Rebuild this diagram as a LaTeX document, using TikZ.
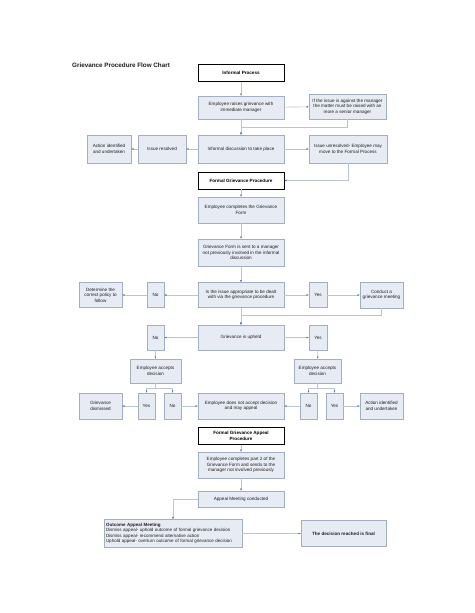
\documentclass[tikz,border=0pt]{standalone}
\usepackage{fontspec}
\setmainfont{Liberation Sans}
\usepackage{xcolor}
\usepackage{tikz}
\usetikzlibrary{arrows.meta,positioning}
\definecolor{boxfill}{HTML}{E7ECF4}
\definecolor{boxline}{HTML}{A3AEC0}
\definecolor{conn}{HTML}{B9C4D6}
\definecolor{tipblue}{HTML}{4A72B0}
\definecolor{txt}{HTML}{1E1E1E}

\begin{document}
\begin{tikzpicture}[x=1pt,y=-1pt,
		box/.style={draw=boxline,fill=boxfill,line width=0.4pt,align=center,inner sep=1pt,text=txt,font=\fontsize{4.6}{5.6}\selectfont},
		head/.style={draw=black,fill=white,line width=0.9pt,align=center,inner sep=1pt,font=\fontsize{4.6}{5.6}\selectfont\bfseries},
		e/.style={-{Latex[length=2.2pt,width=2pt,color=tipblue]},draw=conn,line width=0.6pt},
		ln/.style={draw=conn,line width=0.6pt}
		]
		\useasboundingbox[fill=white] (0,0) rectangle (474,613);
		\node[anchor=west,font=\fontsize{6.3}{7.5}\selectfont\bfseries,text=txt,inner sep=0pt] (title) at (72,65) {Grievance Procedure Flow Chart};
		% informal process
		\node[head,minimum width=86pt,minimum height=17pt] (infp) at (241,73) {Informal Process};
		\node[box,minimum width=86pt,minimum height=23pt] (raise) at (241,107.5) {Employee raises grievance with\\immediate manager};
		\node[box,minimum width=77pt,minimum height=25pt] (senior) at (347.5,106.5) {If the issue is against the manager\\the matter must be raised with an\\more a senior manager};
		\node[box,minimum width=86pt,minimum height=28pt] (disc) at (241,149) {Informal discussion to take place};
		\node[box,minimum width=48pt,minimum height=28pt] (resolved) at (162,149) {Issue resolved};
		\node[box,minimum width=44pt,minimum height=28pt] (act1) at (109,149) {Action identified\\and undertaken};
		\node[box,minimum width=78pt,minimum height=28pt] (unres) at (348,149) {Issue unresolved- Employee may\\move to the Formal Process};
		% formal procedure
		\node[head,minimum width=86pt,minimum height=17pt] (formal) at (241,180.5) {Formal Grievance Procedure};
		\node[box,minimum width=86pt,minimum height=26pt] (compl) at (241,210) {Employee completes the Grievance\\Form};
		\node[box,minimum width=86pt,minimum height=27pt] (sent) at (241,252.5) {Grievance Form is sent to a manager\\not previously involved in the informal\\discussion};
		\node[box,minimum width=86pt,minimum height=25pt] (approp) at (241,295) {Is the issue appropriate to be dealt\\with via the grievance procedure};
		\node[box,minimum width=17pt,minimum height=25pt] (no1) at (155.5,295) {No};
		\node[box,minimum width=43pt,minimum height=25pt] (policy) at (100.5,295) {Determine the\\correct policy to\\follow};
		\node[box,minimum width=18pt,minimum height=25pt] (yes1) at (318,295) {Yes};
		\node[box,minimum width=43pt,minimum height=26pt] (meet) at (381.5,295) {Conduct a\\grievance meeting};
		\node[box,minimum width=86pt,minimum height=25pt] (upheld) at (241,337.5) {Grievance is upheld};
		\node[box,minimum width=17pt,minimum height=25pt] (no2) at (155.5,337.5) {No};
		\node[box,minimum width=18pt,minimum height=25pt] (yes2) at (318,337.5) {Yes};
		\node[box,minimum width=51pt,minimum height=24pt] (accL) at (155.5,371) {Employee accepts\\decision};
		\node[box,minimum width=47pt,minimum height=24pt] (accR) at (317.5,371) {Employee accepts\\decision};
		\node[box,minimum width=43pt,minimum height=26pt] (dism) at (100.5,406) {Grievance\\dismissed};
		\node[box,minimum width=17pt,minimum height=26pt] (yesL) at (146.5,406) {Yes};
		\node[box,minimum width=17pt,minimum height=26pt] (noL) at (172.5,406) {No};
		\node[box,minimum width=86pt,minimum height=26pt] (notacc) at (241,406) {Employee does not accept decision\\and may appeal};
		\node[box,minimum width=17pt,minimum height=26pt] (noR) at (308.5,406) {No};
		\node[box,minimum width=17pt,minimum height=26pt] (yesR) at (334.5,406) {Yes};
		\node[box,minimum width=43pt,minimum height=26pt] (act2) at (381.5,406) {Action identified\\and undertaken};
		% appeal procedure
		\node[head,minimum width=86pt,minimum height=17pt] (appeal) at (241,436) {Formal Grievance Appeal\\Procedure};
		\node[box,minimum width=86pt,minimum height=26pt] (part2) at (241,465) {Employee completes part 2 of the\\Grievance Form and sends to the\\manager not involved previously};
		\node[box,minimum width=86pt,minimum height=16pt] (meetc) at (241,499) {Appeal Meeting conducted};
		\node[box,align=left,text width=134pt,minimum height=28pt,inner sep=2pt,font=\fontsize{4.5}{5.5}\selectfont] (outcome) at (173,533.5) {\textbf{Outcome Appeal Meeting}\\Dismiss appeal- uphold outcome of formal grievance decision\\Dismiss appeal- recommend alternative action\\Uphold appeal- overturn outcome of formal grievance decision};
		\node[box,minimum width=85pt,minimum height=26pt,font=\fontsize{4.6}{5.6}\selectfont\bfseries] (final) at (343.5,533.5) {The decision reached is final};
		% connectors
		\draw[e] (infp)--(raise); \draw[e] (raise)--(senior); \draw[e] (raise)--(disc);
		\draw[e] (senior.south)--++(0,8.5)-|(disc);
		\draw[e] (disc)--(resolved); \draw[e] (resolved)--(act1); \draw[e] (disc)--(unres);
		\draw[e] (unres.south)|-(formal.east);
		\draw[e] (formal)--(compl); \draw[e] (compl)--(sent); \draw[e] (sent)--(approp);
		\draw[e] (approp)--(no1); \draw[e] (no1)--(policy);
		\draw[e] (approp)--(yes1); \draw[e] (yes1)--(meet);
		\draw[e] (approp)--(upheld); \draw[e] (meet.south)--++(0,7)-|(upheld);
		\draw[e] (upheld)--(no2); \draw[e] (upheld)--(yes2);
		\draw[e] (no2)--(accL); \draw[e] (yes2)--(accR);
		\draw[e] (accL.south)--++(0,5)-|(yesL); \draw[e] (accL.south)--++(0,5)-|(noL);
		\draw[e] (accR.south)--++(0,5)-|(noR); \draw[e] (accR.south)--++(0,5)-|(yesR);
		\draw[e] (yesL)--(dism); \draw[e] (noL)--(notacc);
		\draw[e] (noR)--(notacc); \draw[e] (yesR)--(act2);
		\draw[e] (appeal)--(part2); \draw[e] (part2)--(meetc);
		\draw[e] (meetc.west)-|(outcome.north);
		\draw[e] (outcome)--(final);
	\end{tikzpicture}
\end{document}
